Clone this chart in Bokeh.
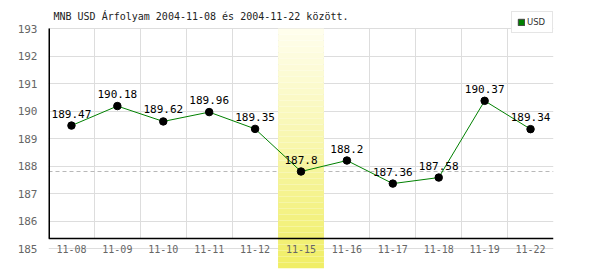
from bokeh.plotting import figure
from bokeh.models import (Range1d, FixedTicker, Span, Label, Legend, LegendItem,
                          ColumnDataSource)
from bokeh.embed import file_html
from bokeh.resources import INLINE
from bokeh.core.properties import value

# ---- data ----
dates = ["11-08", "11-09", "11-10", "11-11", "11-12", "11-15",
         "11-16", "11-17", "11-18", "11-19", "11-22"]
rates = [189.47, 190.18, 189.62, 189.96, 189.35, 187.8,
         188.2, 187.36, 187.58, 190.37, 189.34]
y_ticks = [185, 186, 187, 188, 189, 190, 191, 192, 193]
highlight_date = "11-15"
series_name = "USD"
title_text = "MNB USD Árfolyam 2004-11-08 és 2004-11-22 között."

# ---- layout constants ----
PX_PER_UNIT = 27.5
Y_TOP_TICK = 193.0
Y_MIN = Y_TOP_TICK - 240 / PX_PER_UNIT
Y_MAX = Y_TOP_TICK + 28 / PX_PER_UNIT
AXIS_Y = 185.36
MONO = "DejaVu Sans Mono"

xs = list(range(len(dates)))
hi = dates.index(highlight_date)
labels_txt = [str(v) for v in rates]

p = figure(width=600, height=270, output_backend="svg", toolbar_location=None,
           x_range=Range1d(-0.5, len(dates) - 0.5), y_range=Range1d(Y_MIN, Y_MAX),
           min_border_left=48, min_border_right=47, min_border_top=0,
           min_border_bottom=2)
p.outline_line_color = None
p.background_fill_color = "white"
p.border_fill_color = "white"

# grids
p.ygrid.ticker = FixedTicker(ticks=y_ticks)
p.ygrid.grid_line_color = "#dddddd"
p.xgrid.ticker = FixedTicker(ticks=[i + 0.5 for i in xs])
p.xgrid.grid_line_color = "#dddddd"
try:
    p.xgrid.cross_bounds = (AXIS_Y, Y_TOP_TICK)
except Exception:
    pass

# y axis
p.yaxis.ticker = FixedTicker(ticks=y_ticks)
p.yaxis.axis_line_color = None
p.yaxis.major_tick_line_color = None
p.yaxis.minor_tick_line_color = None
p.yaxis.major_label_standoff = 5
p.yaxis.major_label_text_font = MONO
p.yaxis.major_label_text_font_size = "11px"
p.yaxis.major_label_text_color = "#666666"

# x axis
p.xaxis.fixed_location = AXIS_Y
p.xaxis.ticker = FixedTicker(ticks=xs)
p.xaxis.major_label_overrides = {i: d for i, d in zip(xs, dates)}
p.xaxis.axis_line_color = "black"
p.xaxis.axis_line_width = 1.5
p.xaxis.major_tick_line_color = None
p.xaxis.minor_tick_line_color = None
p.xaxis.major_label_standoff = 0
p.xaxis.major_label_text_font = MONO
p.xaxis.major_label_text_font_size = "10px"
p.xaxis.major_label_text_color = "#666666"

# dashed reference line at highlighted day's value
p.add_layout(Span(location=rates[hi], dimension="width", line_color="#b8b8b8",
                  line_dash="4 3", line_width=1, level="underlay"))

# highlight band with vertical gradient (stacked slices)
N = 40
top_c = (255, 254, 238)
bot_c = (240, 238, 100)
step = (Y_TOP_TICK - Y_MIN) / N
bottoms, tops_, cols = [], [], []
for k in range(N):
    b = Y_MIN + k * step
    t = b + step * 1.02
    f = (k + 0.5) / N
    c = tuple(int(round(bot_c[j] + (top_c[j] - bot_c[j]) * f)) for j in range(3))
    bottoms.append(b)
    tops_.append(min(t, Y_TOP_TICK))
    cols.append("#%02x%02x%02x" % c)
p.quad(left=[hi - 0.5] * N, right=[hi + 0.5] * N, bottom=bottoms, top=tops_,
       fill_color=cols, line_color=None)

# y axis line
p.segment(x0=[-0.5], y0=[AXIS_Y], x1=[-0.5], y1=[Y_TOP_TICK], line_color="black",
          line_width=3)

# series
src = ColumnDataSource(dict(x=xs, y=rates, lbl=labels_txt))
p.line("x", "y", source=src, line_color="#008000", line_width=1)
p.scatter("x", "y", source=src, size=7.5, fill_color="black", line_color="black")
p.text("x", "y", text="lbl", source=src, text_align="center",
       text_baseline="bottom", y_offset=-8, text_font=value(MONO),
       text_font_size="11px", text_color="black")

# title
p.add_layout(Label(x=-0.5, y=Y_TOP_TICK, x_offset=5, y_offset=12, text=title_text,
                   text_baseline="middle", text_font=MONO, text_font_size="10px",
                   text_color="#222222"))

# legend (swatch renderer is hidden; only its legend icon is shown)
leg_r = p.quad(left="x", right="x", bottom="y", top="y", source=src,
               fill_color="#008000", line_color="#404040")
leg_r.visible = False
legend = Legend(items=[LegendItem(label=series_name, renderers=[leg_r])],
                location=(463, 235), padding=5, glyph_width=8, glyph_height=8,
                label_standoff=2, label_width=20, label_height=10,
                label_text_font="DejaVu Sans", label_text_font_size="8.5px",
                label_text_color="#333333", border_line_color="#cccccc",
                background_fill_color="white", background_fill_alpha=1,
                inactive_fill_alpha=0, margin=0, spacing=0)
p.add_layout(legend)

open("out.html", "w").write(file_html(p, INLINE))
